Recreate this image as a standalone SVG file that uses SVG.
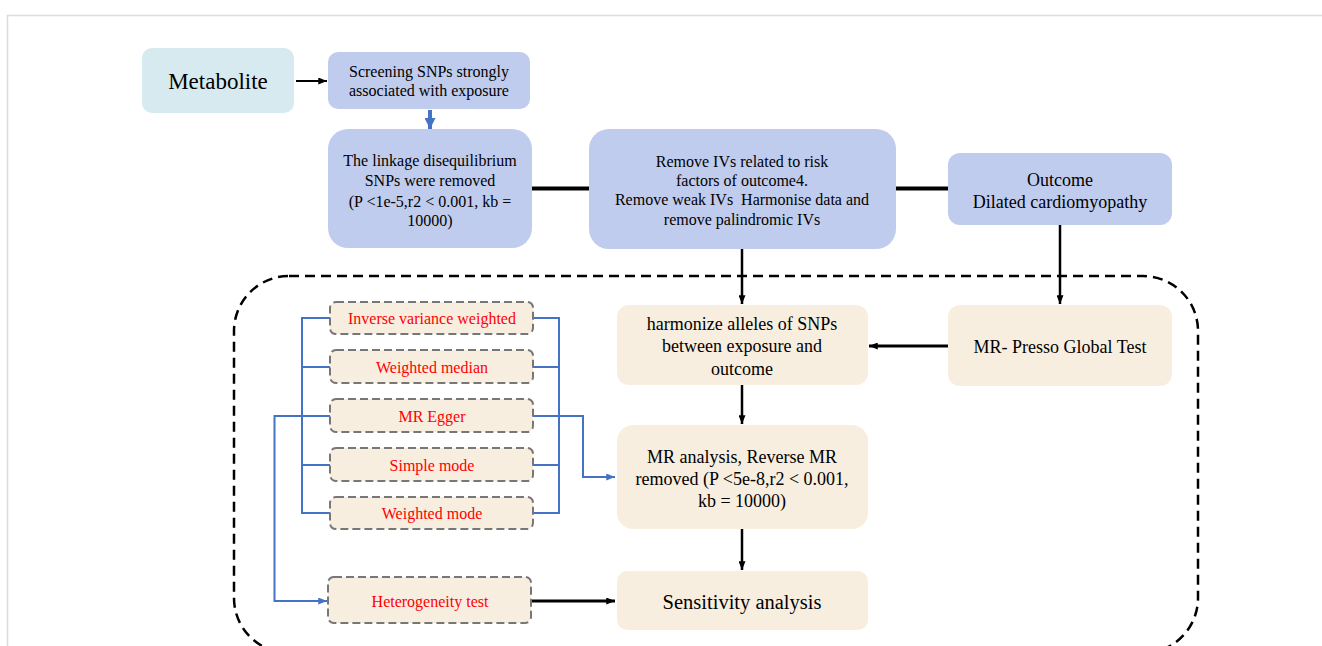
<svg xmlns="http://www.w3.org/2000/svg" width="1322" height="646" viewBox="0 0 1322 646">
<style>
text{font-family:"Liberation Serif","Times New Roman",serif;fill:#000;text-anchor:middle}
.blue{fill:#c0ccee}
.beige{fill:#f8eee0}
.meth{fill:#f8eee0;stroke:#777;stroke-width:2;stroke-dasharray:8 4}
.red{fill:#ff0000;font-size:16px}
.t16{font-size:16px}
.t18{font-size:18px}
.bl{stroke:#4472c4;stroke-width:2;fill:none}
.k{stroke:#000;fill:none}
</style>
<defs>
<marker id="ah" viewBox="0 0 10 8" refX="10" refY="4" markerWidth="9" markerHeight="7" markerUnits="userSpaceOnUse" orient="auto"><path d="M0,0L10,4L0,8z" fill="#000"/></marker>
<marker id="ahb" viewBox="0 0 10 8" refX="10" refY="4" markerWidth="9" markerHeight="7" markerUnits="userSpaceOnUse" orient="auto"><path d="M0,0L10,4L0,8z" fill="#4472c4"/></marker>
<marker id="ahbig" viewBox="0 0 10 10" refX="10" refY="5" markerWidth="11" markerHeight="11" markerUnits="userSpaceOnUse" orient="auto"><path d="M0,0L10,5L0,10z" fill="#4472c4"/></marker>
</defs>
<rect width="1322" height="646" fill="#fff"/>
<path d="M7.5,646V15.5H1322" fill="none" stroke="#dcdcdc" stroke-width="1.5"/>
<rect x="234" y="276" width="964" height="377" rx="55" fill="none" stroke="#000" stroke-width="2.5" stroke-dasharray="10 6"/>

<g id="connectors">
<line class="k" x1="296" y1="81" x2="327" y2="81" stroke-width="2" marker-end="url(#ah)"/>
<line x1="430" y1="110" x2="430" y2="129" stroke="#4472c4" stroke-width="4" marker-end="url(#ahbig)"/>
<line class="k" x1="532" y1="188.5" x2="589" y2="188.5" stroke-width="4"/>
<line class="k" x1="895" y1="188.5" x2="948" y2="188.5" stroke-width="4"/>
<line class="k" x1="742" y1="248" x2="742" y2="304" stroke-width="2.5" marker-end="url(#ah)"/>
<line class="k" x1="1060" y1="224" x2="1060" y2="304" stroke-width="2.5" marker-end="url(#ah)"/>
<line class="k" x1="948" y1="346" x2="869" y2="346" stroke-width="3" marker-end="url(#ah)"/>
<line class="k" x1="742" y1="385" x2="742" y2="424" stroke-width="2.5" marker-end="url(#ah)"/>
<line class="k" x1="742" y1="529" x2="742" y2="570" stroke-width="2.5" marker-end="url(#ah)"/>
<line class="k" x1="531" y1="601" x2="615" y2="601" stroke-width="3" marker-end="url(#ah)"/>
<path class="bl" d="M330,318H302V513H330M302,367H330M302,465H330"/>
<path class="bl" d="M533,318H559V513H533M559,367H533M559,465H533"/>
<path class="bl" d="M533,416H583V477H615" marker-end="url(#ahb)"/>
<path class="bl" d="M330,416H274.5V601H327" marker-end="url(#ahb)"/>
</g>

<g id="metabolite">
<rect x="142" y="48" width="152" height="65" rx="10" fill="#d6eaef"/>
<text x="218" y="89" font-size="23">Metabolite</text>
</g>
<g id="screening">
<rect class="blue" x="328" y="52" width="202" height="57" rx="10"/>
<text class="t16" x="429" y="77">Screening SNPs strongly</text>
<text class="t16" x="429" y="96">associated with exposure</text>
</g>
<g id="ld">
<rect class="blue" x="328" y="129" width="204" height="119" rx="20"/>
<text class="t16" x="430" y="166">The linkage disequilibrium</text>
<text class="t16" x="430" y="186">SNPs were removed</text>
<text class="t16" x="430" y="207">(P &lt;1e-5,r2 &lt; 0.001, kb =</text>
<text class="t16" x="430" y="226">10000)</text>
</g>
<g id="removeivs">
<rect class="blue" x="589" y="129" width="307" height="120" rx="20"/>
<text class="t16" x="742" y="167">Remove IVs related to risk</text>
<text class="t16" x="742" y="186">factors of outcome4.</text>
<text class="t16" x="742" y="205" xml:space="preserve">Remove weak IVs  Harmonise data and</text>
<text class="t16" x="742" y="225">remove palindromic IVs</text>
</g>
<g id="outcome">
<rect class="blue" x="948" y="153" width="224" height="72" rx="12"/>
<text class="t18" x="1060" y="186">Outcome</text>
<text class="t18" x="1060" y="208">Dilated cardiomyopathy</text>
</g>
<g id="harmonize">
<rect class="beige" x="617" y="305" width="251" height="80" rx="12"/>
<text class="t18" x="742" y="330">harmonize alleles of SNPs</text>
<text class="t18" x="742" y="352">between exposure and</text>
<text class="t18" x="742" y="375">outcome</text>
</g>
<g id="presso">
<rect class="beige" x="948" y="305" width="224" height="81" rx="12"/>
<text class="t18" x="1060" y="353">MR- Presso Global Test</text>
</g>
<g id="mranalysis">
<rect class="beige" x="617" y="425" width="251" height="104" rx="16"/>
<text class="t18" x="742" y="463">MR analysis, Reverse MR</text>
<text class="t18" x="742" y="485">removed (P &lt;5e-8,r2 &lt; 0.001,</text>
<text class="t18" x="742" y="507">kb = 10000)</text>
</g>
<g id="sensitivity">
<rect class="beige" x="617" y="571" width="251" height="59" rx="10"/>
<text x="742" y="609" font-size="20.5">Sensitivity analysis</text>
</g>
<g id="ivw">
<rect class="meth" x="330" y="302" width="203" height="32" rx="6"/>
<text class="red" x="432" y="324">Inverse variance weighted</text>
</g>
<g id="wmedian">
<rect class="meth" x="330" y="350" width="203" height="33" rx="6"/>
<text class="red" x="432" y="373">Weighted median</text>
</g>
<g id="egger">
<rect class="meth" x="330" y="399" width="203" height="33" rx="6"/>
<text class="red" x="432" y="422">MR Egger</text>
</g>
<g id="simple">
<rect class="meth" x="330" y="448" width="203" height="33" rx="6"/>
<text class="red" x="432" y="471">Simple mode</text>
</g>
<g id="wmode">
<rect class="meth" x="330" y="497" width="203" height="32" rx="6"/>
<text class="red" x="432" y="519">Weighted mode</text>
</g>
<g id="hetero">
<rect class="meth" x="328" y="577" width="203" height="46" rx="6"/>
<text class="red" x="430" y="607">Heterogeneity test</text>
</g>
</svg>
